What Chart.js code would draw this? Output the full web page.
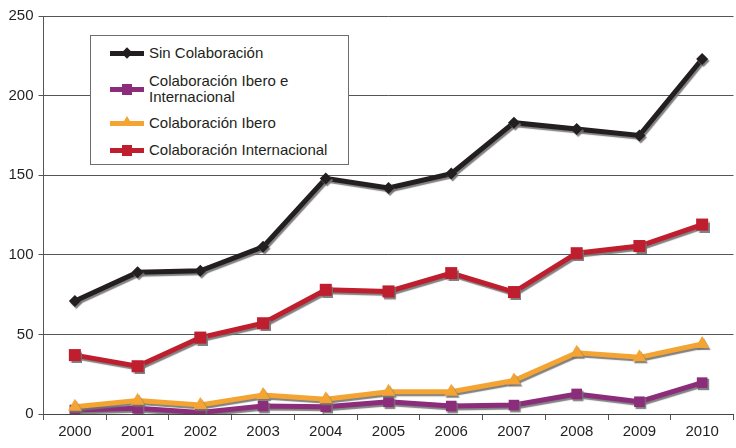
<!DOCTYPE html>
<html>
<head>
<meta charset="utf-8">
<script src="https://cdn.jsdelivr.net/npm/chart.js@4/dist/chart.umd.min.js"></script>
<style>
  html, body { margin: 0; padding: 0; background: #fff; overflow: hidden; }
  #wrap { position: relative; width: 736px; height: 448px; overflow: hidden; }
  #holder { position: absolute; left: 0; top: 0; width: 742px; height: 448px; }
  #legend { position: absolute; left: 90px; top: 35px; width: 257px; height: 128px;
    border: 1px solid #6d6d6d; background: #fff; font-family: 'Liberation Sans', Arial, sans-serif;
    font-size: 15px; color: #231f20; }
  .item { position: absolute; left: 0; width: 257px; line-height: 16px; }
  .item .txt { position: absolute; left: 58px; top: 0; white-space: nowrap; }
  .sample { position: absolute; left: 19px; width: 34px; height: 5px; }
  .mk { position: absolute; }
</style>
</head>
<body>
<div id="wrap">
  <div id="holder"><canvas id="c" width="742" height="448"></canvas></div>
  <div id="legend"></div>
</div>
<script>
const years = ['2000','2001','2002','2003','2004','2005','2006','2007','2008','2009','2010'];
const sinColaboracion = [71, 89, 90, 105, 148, 142, 151, 183, 179, 175, 223];
const iberoEInternacional = [2.5, 3.6, 1, 5, 4.6, 7.7, 5, 5.6, 12.6, 7.7, 19.7];
const ibero = [4.6, 8.4, 5.6, 12, 9.2, 14, 14, 21, 38.5, 35.6, 44];
const internacional = [37, 30, 48, 57, 78, 77, 88.5, 76.6, 101, 105.5, 119];
const seriesLabels = ['Sin Colaboración', 'Colaboración Ibero e\nInternacional', 'Colaboración Ibero', 'Colaboración Internacional'];
const yTicks = [0, 50, 100, 150, 200, 250];

const colors = ['#231f20', '#8b2d7a', '#f4a433', '#be1e2d'];
const pstyles = ['rectRot', 'rect', 'triangle', 'rect'];
const pradius = [6, 7.5, 8, 8.5];
const orders = [0, 2, 1, 3];
const dataArr = [sinColaboracion, iberoEInternacional, ibero, internacional];

const shadowPlugin = {
  id: 'shadow',
  beforeDatasetDraw(chart) {
    const ctx = chart.ctx;
    ctx.save();
    ctx.shadowColor = 'rgba(115,115,115,0.9)';
    ctx.shadowOffsetX = 1.5;
    ctx.shadowOffsetY = 2;
    ctx.shadowBlur = 1;
  },
  afterDatasetDraw(chart) { chart.ctx.restore(); }
};

const fontFam = "'Liberation Sans', Arial, sans-serif";

new Chart(document.getElementById('c'), {
  type: 'line',
  data: {
    labels: years,
    datasets: dataArr.map((d, i) => ({
      label: seriesLabels[i],
      data: d,
      borderColor: colors[i],
      backgroundColor: colors[i],
      borderWidth: 5,
      pointStyle: pstyles[i],
      pointRadius: pradius[i],
      pointBorderWidth: 0,
      pointBackgroundColor: colors[i],
      tension: 0,
      order: orders[i]
    }))
  },
  options: {
    responsive: false,
    animation: false,
    events: [],
    layout: { padding: { top: 16, left: 0, right: 0, bottom: 0 } },
    plugins: { legend: { display: false }, tooltip: { enabled: false } },
    scales: {
      x: {
        type: 'category',
        offset: true,
        grid: { offset: true, drawOnChartArea: false, drawTicks: true, tickLength: 6, color: '#555', lineWidth: 1 },
        border: { display: true, color: '#444', width: 1 },
        ticks: { color: '#231f20', font: { family: fontFam, size: 15 }, padding: 3, maxRotation: 0, autoSkip: false },
        afterFit(s) { s.height = 34; }
      },
      y: {
        min: yTicks[0], max: yTicks[yTicks.length - 1],
        afterBuildTicks(s) { s.ticks = yTicks.map(v => ({ value: v })); },
        grid: { color: '#555', lineWidth: 1, drawTicks: true, tickLength: 5 },
        border: { display: true, color: '#555', width: 1 },
        ticks: { color: '#231f20', font: { family: fontFam, size: 15 }, padding: 5 },
        afterFit(s) { s.width = 43.5; }
      }
    }
  },
  plugins: [shadowPlugin]
});

// HTML legend built from the series labels
const legend = document.getElementById('legend');
const itemTops = [9, 37, 79, 106];
const itemMarkerCenters = [8, 16, 8, 8];
seriesLabels.forEach((lab, i) => {
  const it = document.createElement('div');
  it.className = 'item';
  it.style.top = itemTops[i] + 'px';
  const lines = lab.split('\n');
  it.style.height = (lines.length * 16) + 'px';
  const s = document.createElement('div');
  s.className = 'sample';
  s.style.background = colors[i];
  s.style.top = (itemMarkerCenters[i] - 2.5) + 'px';
  const mk = document.createElement('div');
  mk.className = 'mk';
  if (pstyles[i] === 'rectRot') {
    mk.style.cssText = 'left:13px;top:-1.5px;width:8px;height:8px;background:' + colors[i] + ';transform:rotate(45deg);';
  } else if (pstyles[i] === 'triangle') {
    mk.style.cssText = 'left:11px;top:-5px;width:0;height:0;border-left:6px solid transparent;border-right:6px solid transparent;border-bottom:10px solid ' + colors[i] + ';';
  } else {
    mk.style.cssText = 'left:12px;top:-3px;width:10px;height:11px;background:' + colors[i] + ';';
  }
  s.appendChild(mk);
  it.appendChild(s);
  const t = document.createElement('div');
  t.className = 'txt';
  lines.forEach((ln, k) => {
    const d = document.createElement('div');
    d.textContent = ln;
    t.appendChild(d);
  });
  it.appendChild(t);
  legend.appendChild(it);
});
</script>
</body>
</html>
